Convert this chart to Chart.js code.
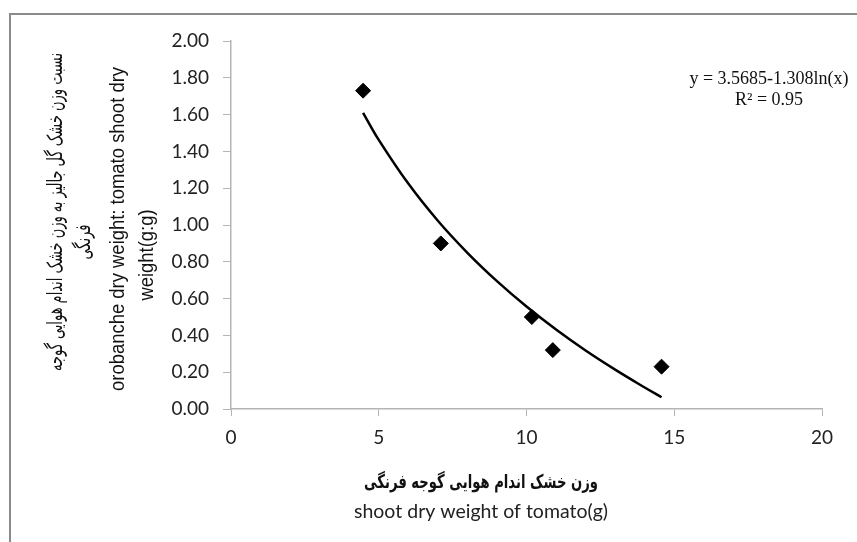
<!DOCTYPE html>
<html>
<head>
<meta charset="utf-8">
<script src="https://cdn.jsdelivr.net/npm/chart.js@4.4.1/dist/chart.umd.min.js"></script>
<style>
  html, body { margin: 0; padding: 0; background: #fff; overflow: hidden; }
  #wrap { position: relative; width: 857px; height: 542px; }
  #frame { position: absolute; left: 9px; top: 13px; width: 900px; height: 600px;
           border: 2px solid #8a8a8a; box-sizing: border-box; }
  canvas { position: absolute; left: 0; top: 0; }
</style>
</head>
<body>
<div id="wrap">
  <div id="frame"></div>
  <canvas id="chart" width="857" height="542"></canvas>
</div>
<script>
// observed points
const shootWeight = [4.47, 7.10, 10.18, 10.89, 14.57];
const weightRatio = [1.73, 0.90, 0.50, 0.32, 0.23];

// log trendline
const trendX = [4.47, 5, 6, 7, 8, 9, 10, 11, 12, 13, 14, 14.57];
const trendY = [1.610, 1.463, 1.225, 1.023, 0.849, 0.695, 0.557, 0.432, 0.318, 0.214, 0.117, 0.064];

const xTicks = [0, 5, 10, 15, 20];
const yTicks = [0, 0.2, 0.4, 0.6, 0.8, 1.0, 1.2, 1.4, 1.6, 1.8, 2.0];

const equationText = ['y = 3.5685-1.308ln(x)', 'R² = 0.95'];
const yTitleFa = ['نسبت وزن خشک گل جالیز به وزن خشک اندام هوایی گوجه', 'فرنگی'];
const yTitleEn = ['orobanche dry weight: tomato shoot dry', 'weight(g:g)'];
const xTitleFa = 'وزن خشک اندام هوایی گوجه فرنگی';
const xTitleEn = 'shoot dry weight of tomato(g)';

const axisGray = '#b4b4b4';
const tickFont = { family: 'Lato, "Open Sans", sans-serif', size: 19 };

// draw text squeezed horizontally by sx, optionally turned to read upwards
function drawText(ctx, text, x, y, font, sx, up) {
  ctx.save();
  ctx.translate(x, y);
  if (up) ctx.rotate(-Math.PI / 2);
  ctx.scale(sx, 1);
  ctx.font = font;
  ctx.textAlign = 'center';
  ctx.textBaseline = 'middle';
  ctx.fillText(text, 0, 0);
  ctx.restore();
}

function squeeze(ctx, text, font, width) {
  ctx.font = font;
  return Math.min(1, width / ctx.measureText(text).width);
}

const textPlugin = {
  id: 'texts',
  afterDraw(chart) {
    const ctx = chart.ctx;
    ctx.save();
    ctx.fillStyle = '#111';

    // y titles
    const faFont = '21px "DejaVu Sans", sans-serif';
    let k = squeeze(ctx, yTitleFa[0], faFont, 318);
    drawText(ctx, yTitleFa[0], 57, 212, faFont, k, true);
    drawText(ctx, yTitleFa[1], 85, 242, faFont, k, true);

    const enFont = '20px "Liberation Sans", Arial, sans-serif';
    k = squeeze(ctx, yTitleEn[0], enFont, 324);
    drawText(ctx, yTitleEn[0], 118, 229, enFont, k, true);
    drawText(ctx, yTitleEn[1], 147, 255, enFont, k, true);

    // x titles
    const faBold = 'bold 19px "DejaVu Sans", sans-serif';
    k = squeeze(ctx, xTitleFa, faBold, 234);
    drawText(ctx, xTitleFa, 481, 483, faBold, k, false);
    ctx.fillStyle = '#222';
    const latoFont = '20px Lato, "Open Sans", sans-serif';
    k = squeeze(ctx, xTitleEn, latoFont, 254);
    drawText(ctx, xTitleEn, 481, 512, latoFont, k, false);

    // trendline equation
    ctx.fillStyle = '#111';
    ctx.font = '18px "Liberation Serif", serif';
    ctx.textAlign = 'center';
    ctx.textBaseline = 'middle';
    ctx.fillText(equationText[0], 769, 79);
    ctx.fillText(equationText[1], 769, 100);
    ctx.restore();
  }
};

new Chart(document.getElementById('chart'), {
  type: 'scatter',
  data: {
    datasets: [
      {
        label: 'data',
        data: shootWeight.map((x, i) => ({ x, y: weightRatio[i] })),
        pointStyle: 'rectRot',
        pointRadius: 7.5,
        backgroundColor: '#000',
        borderColor: '#000',
        borderWidth: 1
      },
      {
        label: 'trend',
        data: trendX.map((x, i) => ({ x, y: trendY[i] })),
        showLine: true,
        pointRadius: 0,
        borderColor: '#000',
        borderWidth: 2.5,
        tension: 0.4
      }
    ]
  },
  options: {
    responsive: false,
    animation: false,
    layout: { padding: { left: 0, top: 41, right: 35, bottom: 0 } },
    plugins: {
      legend: { display: false },
      tooltip: { enabled: false }
    },
    scales: {
      x: {
        type: 'linear',
        min: xTicks[0],
        max: xTicks[xTicks.length - 1],
        afterBuildTicks: (scale) => { scale.ticks = xTicks.map(v => ({ value: v })); },
        afterFit: (scale) => { scale.height = 133; },
        grid: { drawOnChartArea: false, color: axisGray, tickLength: 7 },
        border: { color: axisGray, width: 1.5 },
        ticks: { color: '#222', font: tickFont, padding: 10 }
      },
      y: {
        type: 'linear',
        min: yTicks[0],
        max: yTicks[yTicks.length - 1],
        afterBuildTicks: (scale) => { scale.ticks = yTicks.map(v => ({ value: v })); },
        afterFit: (scale) => { scale.width = 231; },
        grid: { drawOnChartArea: false, color: axisGray, tickLength: 8 },
        border: { color: axisGray, width: 1.5 },
        ticks: { color: '#222', font: tickFont, padding: 14,
                 callback: (v) => Number(v).toFixed(2) }
      }
    }
  },
  plugins: [textPlugin]
});
</script>
</body>
</html>
